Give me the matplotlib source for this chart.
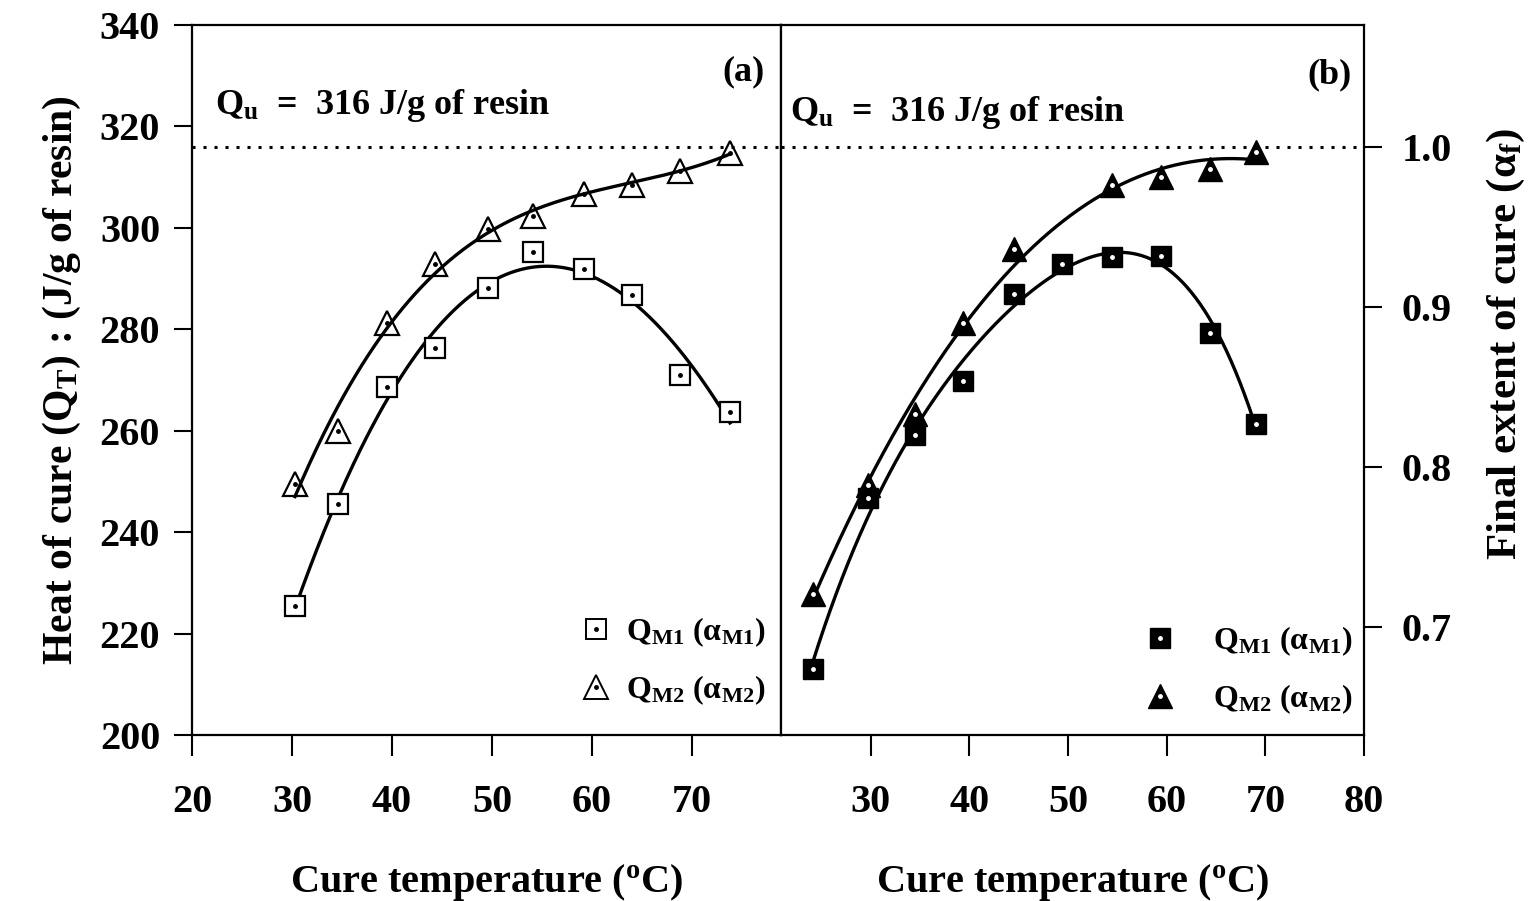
import numpy as np
import matplotlib
matplotlib.use("Agg")
import matplotlib.pyplot as plt
from matplotlib.lines import Line2D

plt.rcParams['font.family'] = ['Liberation Serif', 'DejaVu Serif']
plt.rcParams['font.weight'] = 'bold'
plt.rcParams['axes.labelweight'] = 'bold'
plt.rcParams['mathtext.fontset'] = 'custom'
plt.rcParams['mathtext.rm'] = 'Liberation Serif:bold'
plt.rcParams['mathtext.it'] = 'Liberation Serif:bold'
plt.rcParams['mathtext.bf'] = 'Liberation Serif:bold'

# ---- data: panel (a), heat of cure (J/g of resin) ----
a_temp = [30.3, 34.6, 39.5, 44.3, 49.6, 54.1, 59.2, 64.0, 68.8, 73.8]
a_q_m1 = [225.5, 245.5, 268.7, 276.4, 288.1, 295.2, 291.8, 286.8, 271.0, 263.7]
a_q_m2 = [249.4, 260.0, 281.3, 292.9, 299.8, 302.4, 306.7, 308.4, 311.3, 314.8]

# ---- data: panel (b), final extent of cure ----
b_temp_m1 = [24.1, 29.7, 34.5, 39.4, 44.5, 49.4, 54.5, 59.4, 64.4, 69.1]
b_alpha_m1 = [0.674, 0.781, 0.820, 0.854, 0.908, 0.927, 0.931, 0.932, 0.884, 0.827]
b_temp_m2 = [24.1, 29.7, 34.5, 39.4, 44.5, 54.5, 59.4, 64.4, 69.1]
b_alpha_m2 = [0.721, 0.789, 0.833, 0.890, 0.936, 0.976, 0.981, 0.986, 0.997]

Q_U = 316.0
a_xticks = [20, 30, 40, 50, 60, 70]
a_yticks = [200, 220, 240, 260, 280, 300, 320, 340]
b_xticks = [30, 40, 50, 60, 70, 80]
b_yticks = [0.7, 0.8, 0.9, 1.0]

W, H = 1539, 901
fig = plt.figure(figsize=(W / 100, H / 100), dpi=100)

def px_rect(x0, x1, y0, y1):
    return [x0 / W, 1 - y1 / H, (x1 - x0) / W, (y1 - y0) / H]

ax1 = fig.add_axes(px_rect(192, 781, 25, 735))
ax2 = fig.add_axes(px_rect(781, 1364, 25, 735))

for ax in (ax1, ax2):
    for s in ax.spines.values():
        s.set_linewidth(1.6)

FS = 29

def fit_curve(ax, x, y, deg):
    x = np.asarray(x, float)
    y = np.asarray(y, float)
    c = np.polyfit(x, y, deg)
    xx = np.linspace(x.min(), x.max(), 300)
    ax.plot(xx, np.polyval(c, xx), color='black', lw=2.4, zorder=2)

# ---- panel (a) ----
ax1.set_xlim(20, 78.9)
ax1.set_ylim(200, 340)
ax1.axhline(Q_U, color='black', lw=2.2, ls=(0, (1.0, 2.6)), zorder=1)
fit_curve(ax1, a_temp, a_q_m1, 3)
fit_curve(ax1, a_temp, a_q_m2, 3)
ax1.plot(a_temp, a_q_m1, ls='none', marker='s', ms=14, mfc='white', mec='black', mew=1.6, zorder=3)
ax1.plot(a_temp, a_q_m1, ls='none', marker='o', ms=2.5, color='black', zorder=4)
ax1.plot(a_temp, a_q_m2, ls='none', marker='^', ms=17, mfc='none', mec='black', mew=1.6, zorder=3)
ax1.plot(a_temp, a_q_m2, ls='none', marker='o', ms=2.5, color='black', zorder=4)
ax1.set_xticks(a_xticks)
ax1.set_yticks(a_yticks)
ax1.tick_params(axis='y', direction='out', length=13, width=1.5, pad=10, labelsize=FS)
ax1.tick_params(axis='x', direction='out', length=15, width=1.5, pad=20, labelsize=FS)
ax1.set_xlabel('Cure temperature ($^{\\mathrm{o}}$C)', fontsize=FS, labelpad=30)
ax1.set_ylabel('Heat of cure (Q$_{\\mathrm{T}}$) : (J/g of resin)', fontsize=30, labelpad=12)
ax1.text(0.973, 0.934, '(a)', transform=ax1.transAxes, ha='right', va='center', fontsize=26)
ax1.text(0.039, 0.887, 'Q$_{\\mathrm{u}}$  =  316 J/g of resin', transform=ax1.transAxes,
         ha='left', va='center', fontsize=26)

h1 = (Line2D([], [], ls='none', marker='s', ms=14, mfc='white', mec='black', mew=1.4),
      Line2D([], [], ls='none', marker='o', ms=2.5, color='black'))
h2 = (Line2D([], [], ls='none', marker='^', ms=17, mfc='white', mec='black', mew=1.4),
      Line2D([], [], ls='none', marker='o', ms=2.5, color='black'))
ax1.legend([h1, h2], ['Q$_{\\mathrm{M1}}$ (α$_{\\mathrm{M1}}$)', 'Q$_{\\mathrm{M2}}$ (α$_{\\mathrm{M2}}$)'],
           loc='center left', bbox_to_anchor=(0.631, 0.104), frameon=False, fontsize=23,
           borderpad=0, handlelength=1.0, handletextpad=0.45, labelspacing=0.75)

# ---- panel (b) ----
ax2.set_xlim(20.9, 80)
ax2.set_ylim(200 / Q_U, 340 / Q_U)
ax2.axhline(1.0, color='black', lw=2.2, ls=(0, (1.0, 2.6)), zorder=1)
fit_curve(ax2, b_temp_m1, b_alpha_m1, 4)
fit_curve(ax2, b_temp_m2, b_alpha_m2, 3)
ax2.plot(b_temp_m1, b_alpha_m1, ls='none', marker='s', ms=15, mfc='black', mec='black', zorder=3)
ax2.plot(b_temp_m1, b_alpha_m1, ls='none', marker='o', ms=2.5, color='white', zorder=4)
ax2.plot(b_temp_m2, b_alpha_m2, ls='none', marker='^', ms=17, mfc='black', mec='black', zorder=3)
ax2.plot(b_temp_m2, b_alpha_m2, ls='none', marker='o', ms=2.5, color='white', zorder=4)
ax2.set_xticks(b_xticks)
ax2.yaxis.tick_right()
ax2.yaxis.set_label_position('right')
ax2.set_yticks(b_yticks)
ax2.set_yticklabels(['%.1f' % v for v in b_yticks])
ax2.tick_params(axis='y', direction='out', length=13, width=1.5, pad=14, labelsize=FS)
ax2.tick_params(axis='x', direction='out', length=15, width=1.5, pad=20, labelsize=FS)
ax2.set_xlabel('Cure temperature ($^{\\mathrm{o}}$C)', fontsize=FS, labelpad=30)
ax2.set_ylabel('Final extent of cure (α$_{\\mathrm{f}}$)', fontsize=31)
ax2.yaxis.set_label_coords(1.208, 0.55)
ax2.text(0.979, 0.93, '(b)', transform=ax2.transAxes, ha='right', va='center', fontsize=26)
ax2.text(0.015, 0.877, 'Q$_{\\mathrm{u}}$  =  316 J/g of resin', transform=ax2.transAxes,
         ha='left', va='center', fontsize=26)

g1 = (Line2D([], [], ls='none', marker='s', ms=15, mfc='black', mec='black'),
      Line2D([], [], ls='none', marker='o', ms=2.5, color='white'))
g2 = (Line2D([], [], ls='none', marker='^', ms=17, mfc='black', mec='black'),
      Line2D([], [], ls='none', marker='o', ms=2.5, color='white'))
ax2.legend([g1, g2], ['Q$_{\\mathrm{M1}}$ (α$_{\\mathrm{M1}}$)', 'Q$_{\\mathrm{M2}}$ (α$_{\\mathrm{M2}}$)'],
           loc='center left', bbox_to_anchor=(0.595, 0.091), frameon=False, fontsize=23,
           borderpad=0, handlelength=1.0, handletextpad=1.15, labelspacing=0.75)

fig.savefig('out.png', dpi=100)
